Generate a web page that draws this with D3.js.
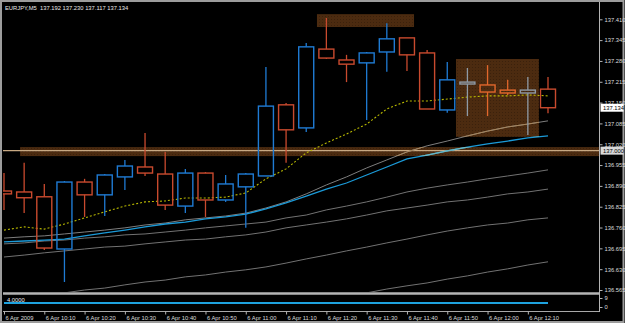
<!DOCTYPE html>
<html>
<head>
<meta charset="utf-8">
<script src="https://cdnjs.cloudflare.com/ajax/libs/d3/7.8.5/d3.min.js"></script>
<style>
  html, body { margin: 0; padding: 0; background: #000; }
  svg { display: block; }
  text { font-family: "Liberation Sans", Arial, sans-serif; }
</style>
</head>
<body>
<div id="chart"></div>
<script>
// EURJPY M5 on 6 Apr 2009, 10:00 .. 12:15
const symbol = 'EURJPY,M5'
const barTimes = ['10:00', '10:05', '10:10', '10:15', '10:20', '10:25', '10:30', '10:35', '10:40', '10:45',
  '10:50', '10:55', '11:00', '11:05', '11:10', '11:15', '11:20', '11:25', '11:30', '11:35',
  '11:40', '11:45', '11:50', '11:55', '12:00', '12:05', '12:10', '12:15']
const opens = [136.874, 136.871, 136.856, 136.693, 136.902, 136.862, 136.918, 136.949, 136.927, 136.827,
  136.930, 136.846, 136.887, 136.921, 137.143, 137.071, 137.317, 137.283, 137.274, 137.308,
  137.352, 137.305, 137.127, 137.208, 137.205, 137.189, 137.180, 137.192]
const highs = [136.930, 136.962, 136.896, 136.905, 136.912, 136.927, 136.971, 137.055, 136.996, 136.943,
  136.933, 136.924, 136.930, 137.261, 137.149, 137.336, 137.414, 137.299, 137.308, 137.398,
  137.352, 137.314, 137.277, 137.258, 137.267, 137.221, 137.230, 137.230]
const lows = [136.815, 136.805, 136.690, 136.590, 136.793, 136.796, 136.877, 136.921, 136.815, 136.805,
  136.793, 136.840, 136.759, 136.921, 136.962, 137.058, 137.286, 137.214, 137.096, 137.246,
  137.249, 137.130, 137.118, 137.108, 137.108, 137.174, 137.049, 137.117]
const closes = [136.865, 136.853, 136.696, 136.902, 136.862, 136.924, 136.952, 136.930, 136.830, 136.930,
  136.846, 136.896, 136.927, 137.139, 137.065, 137.324, 137.289, 137.270, 137.305, 137.349,
  137.299, 137.130, 137.221, 137.214, 137.183, 137.180, 137.189, 137.134]

// moving averages
const maYellow = [136.752, 136.762, 136.755, 136.771, 136.790, 136.809, 136.827, 136.840, 136.843, 136.852,
  136.852, 136.855, 136.868, 136.912, 136.943, 136.993, 137.024, 137.052, 137.083, 137.130,
  137.155, 137.155, 137.161, 137.167, 137.171, 137.171, 137.174, 137.171]
const maCyan = [136.715, 136.718, 136.721, 136.724, 136.734, 136.743, 136.752, 136.762, 136.771, 136.777,
  136.787, 136.793, 136.802, 136.818, 136.837, 136.858, 136.880, 136.899, 136.924, 136.949,
  136.974, 136.986, 136.999, 137.011, 137.021, 137.030, 137.040, 137.046]
const maGray1 = [136.727, 136.731, 136.734, 136.740, 136.746, 136.752, 136.759, 136.768, 136.774, 136.784,
  136.790, 136.796, 136.805, 136.821, 136.840, 136.865, 136.893, 136.918, 136.946, 136.971,
  136.996, 137.015, 137.030, 137.046, 137.061, 137.074, 137.083, 137.093]
const maGray2 = [136.709, 136.712, 136.718, 136.721, 136.727, 136.731, 136.737, 136.740, 136.746, 136.752,
  136.759, 136.765, 136.771, 136.777, 136.790, 136.799, 136.815, 136.827, 136.840, 136.855,
  136.871, 136.883, 136.893, 136.902, 136.912, 136.921, 136.930, 136.940]
const maGray3 = [136.668, 136.674, 136.681, 136.687, 136.693, 136.699, 136.702, 136.709, 136.715, 136.721,
  136.724, 136.731, 136.737, 136.746, 136.759, 136.768, 136.777, 136.787, 136.799, 136.812,
  136.821, 136.830, 136.840, 136.846, 136.855, 136.865, 136.871, 136.880]
const maGray4 = [136.531, 136.538, 136.546, 136.556, 136.565, 136.571, 136.581, 136.590, 136.596, 136.606,
  136.612, 136.621, 136.628, 136.637, 136.649, 136.662, 136.674, 136.687, 136.699, 136.712,
  136.724, 136.737, 136.749, 136.759, 136.768, 136.774, 136.784, 136.790]
const maGray5 = [null, null, null, null, null, null, null, null, null, null,
  null, null, null, null, null, null, 136.534, 136.546, 136.556, 136.568,
  136.578, 136.587, 136.599, 136.609, 136.621, 136.631, 136.643, 136.653]

// sub window indicator
const subValues = [4, 4, 4, 4, 4, 4, 4, 4, 4, 4, 4, 4, 4, 4, 4, 4, 4, 4, 4, 4, 4, 4, 4, 4, 4, 4, 4, 4]
const subTicks = [9, 0]

// drawn objects
const hlinePrice = 137.000
const zoneStart = ['11:17:40', '11:52:10', '10:04:00']
const zoneEnd = ['11:41:45', '12:12:45', '12:40:00']
const zoneHigh = [137.426, 137.286, 137.011]
const zoneLow = [137.386, 137.043, 136.983]

// axis labels
const priceTicks = [137.410, 137.345, 137.280, 137.215, 137.150, 137.085, 137.020, 136.955,
  136.890, 136.825, 136.760, 136.695, 136.630, 136.565]
const timeTicks = ['10:00', '10:10', '10:20', '10:30', '10:40', '10:50', '11:00', '11:10',
  '11:20', '11:30', '11:40', '11:50', '12:00', '12:10']
const timeTickLabels = ['6 Apr 2009', '6 Apr 10:10', '6 Apr 10:20', '6 Apr 10:30', '6 Apr 10:40',
  '6 Apr 10:50', '6 Apr 11:00', '6 Apr 11:10', '6 Apr 11:20', '6 Apr 11:30', '6 Apr 11:40',
  '6 Apr 11:50', '6 Apr 12:00', '6 Apr 12:10']

const width = 625
const height = 323
const plot = { left: 3, right: 599, top: 3, bottom: 292 }
const subPlot = { top: 295, bottom: 311 }

const bullColor = '#1f7bd4'
const bearColor = '#c94a2e'
const grayLine = '#727272'
const textColor = '#dcdcdc'

const parseT = t => d3.timeParse('%Y-%m-%d %H:%M:%S')('2009-04-06 ' + (t.length === 5 ? t + ':00' : t))

const bars = barTimes.map((t, i) => ({
  date: parseT(t), open: opens[i], high: highs[i], low: lows[i], close: closes[i]
}))
const zones = zoneStart.map((s, i) => ({
  start: parseT(s), end: parseT(zoneEnd[i]), high: zoneHigh[i], low: zoneLow[i]
}))

/**
 * Scales.
 */
const x = d3.scaleTime()
  .domain([bars[0].date, bars[bars.length - 1].date])
  .range([4, 548])
const y = d3.scaleLinear()
  .domain([136.565, 137.410])
  .range([290, 19.3])
const ySub = d3.scaleLinear()
  .domain([0, 9])
  .range([307, 298])

const svg = d3.select('#chart')
  .append('svg')
  .attr('width', width)
  .attr('height', height)

svg.append('rect')
  .attr('width', width).attr('height', height)
  .attr('fill', '#000')

const defs = svg.append('defs')
defs.append('clipPath').attr('id', 'plotClip')
  .append('rect')
  .attr('x', plot.left).attr('y', plot.top)
  .attr('width', plot.right - plot.left).attr('height', plot.bottom - plot.top)
const zoneClip = defs.append('clipPath').attr('id', 'zoneClip')
const zoneRect = z => ({
  x: x(z.start), y: y(z.high),
  w: x(z.end) - x(z.start), h: y(z.low) - y(z.high)
})
zones.forEach(z => {
  const r = zoneRect(z)
  zoneClip.append('rect').attr('x', r.x).attr('y', r.y).attr('width', r.w).attr('height', r.h)
})
// dotted fill like the terminal draws
const pattern = defs.append('pattern')
  .attr('id', 'zoneFill')
  .attr('width', 3).attr('height', 3)
  .attr('patternUnits', 'userSpaceOnUse')
pattern.append('rect').attr('width', 3).attr('height', 3).attr('fill', '#4c2b10')
pattern.append('rect').attr('x', 1).attr('y', 1).attr('width', 1).attr('height', 1).attr('fill', '#3b210c')

const main = svg.append('g').attr('clip-path', 'url(#plotClip)')

/**
 * Zones.
 */
main.selectAll('.zone')
  .data(zones)
  .enter()
  .append('rect')
  .attr('class', 'zone')
  .attr('x', d => zoneRect(d).x)
  .attr('y', d => zoneRect(d).y)
  .attr('width', d => zoneRect(d).w)
  .attr('height', d => zoneRect(d).h)
  .attr('fill', 'url(#zoneFill)')

// 137.000 horizontal line
main.append('line')
  .attr('x1', plot.left).attr('x2', plot.right)
  .attr('y1', y(hlinePrice)).attr('y2', y(hlinePrice))
  .attr('stroke', '#c8a983')
  .attr('stroke-width', 1.2)

/**
 * Moving averages.
 */
const maLine = d3.line()
  .defined(d => d[1] != null)
  .x(d => x(d[0]))
  .y(d => y(d[1]))
const series = [
  { values: maGray5, color: grayLine, zoneColor: '#a88660', width: 1 },
  { values: maGray4, color: grayLine, zoneColor: '#a88660', width: 1 },
  { values: maGray3, color: grayLine, zoneColor: '#a88660', width: 1 },
  { values: maGray2, color: grayLine, zoneColor: '#a88660', width: 1 },
  { values: maGray1, color: '#7e7e7e', zoneColor: '#a8865c', width: 1 },
  { values: maCyan, color: '#1b9ad8', zoneColor: '#6fb8c0', width: 1.3 },
]
const maGroup = main.append('g')
series.forEach(s => {
  maGroup.append('path')
    .datum(bars.map((b, i) => [b.date, s.values[i]]))
    .attr('d', maLine)
    .attr('fill', 'none')
    .attr('stroke', s.color)
    .attr('stroke-width', s.width)
})
// inside the zones the lines mix with the zone colour
const maZoneGroup = main.append('g').attr('clip-path', 'url(#zoneClip)')
series.forEach(s => {
  maZoneGroup.append('path')
    .datum(bars.map((b, i) => [b.date, s.values[i]]))
    .attr('d', maLine)
    .attr('fill', 'none')
    .attr('stroke', s.zoneColor)
    .attr('stroke-width', s.width)
})
main.append('path')
  .datum(bars.map((b, i) => [b.date, maYellow[i]]))
  .attr('d', maLine)
  .attr('fill', 'none')
  .attr('stroke', '#b8b800')
  .attr('stroke-width', 1.1)
  .attr('stroke-dasharray', '2,2')

/**
 * Candles.
 */
const inZone = d => zones.slice(1, 2).some(z => d.date >= z.start && d.date <= z.end)
const candleColor = d => {
  const bull = d.close >= d.open
  if (inZone(d)) return bull ? '#8e9aa6' : '#e2672c'
  return bull ? bullColor : bearColor
}
const halfBody = 7.5
const candles = main.selectAll('.candle')
  .data(bars)
  .enter()
  .append('g')
  .attr('class', 'candle')
candles.append('line')
  .attr('x1', d => x(d.date)).attr('x2', d => x(d.date))
  .attr('y1', d => y(d.high))
  .attr('y2', d => y(Math.max(d.open, d.close)))
  .attr('stroke', candleColor)
  .attr('stroke-width', 1.3)
candles.append('line')
  .attr('x1', d => x(d.date)).attr('x2', d => x(d.date))
  .attr('y1', d => y(Math.min(d.open, d.close)))
  .attr('y2', d => y(d.low))
  .attr('stroke', candleColor)
  .attr('stroke-width', 1.3)
candles.append('rect')
  .attr('x', d => x(d.date) - halfBody)
  .attr('width', halfBody * 2)
  .attr('y', d => y(Math.max(d.open, d.close)))
  .attr('height', d => Math.max(1.5, Math.abs(y(d.open) - y(d.close))))
  .attr('fill', 'none')
  .attr('stroke', candleColor)
  .attr('stroke-width', 1.4)

/**
 * Sub window.
 */
svg.append('path')
  .datum(bars.map((b, i) => [b.date, subValues[i]]))
  .attr('d', d3.line().x(d => x(d[0])).y(d => ySub(d[1])))
  .attr('fill', 'none')
  .attr('stroke', '#1ea2de')
  .attr('stroke-width', 2)
svg.append('text')
  .attr('x', 7).attr('y', 301.5)
  .attr('font-size', 5.8)
  .attr('fill', '#f0f0f0')
  .text(subValues[subValues.length - 1].toFixed(4))

/**
 * Frame.
 */
const frame = svg.append('g').attr('fill', 'none')
frame.append('rect')
  .attr('x', 1).attr('y', 1).attr('width', width - 2.5).attr('height', height - 2)
  .attr('stroke', '#9c9c9c').attr('stroke-width', 2)
frame.append('line')
  .attr('x1', plot.left).attr('x2', plot.right)
  .attr('y1', 293.5).attr('y2', 293.5)
  .attr('stroke', '#b4b4b4').attr('stroke-width', 2.5)
frame.append('line')
  .attr('x1', plot.left).attr('x2', plot.right + 0.5)
  .attr('y1', subPlot.bottom + 0.5).attr('y2', subPlot.bottom + 0.5)
  .attr('stroke', '#a8a8a8').attr('stroke-width', 1)
frame.append('line')
  .attr('x1', plot.right + 0.5).attr('x2', plot.right + 0.5)
  .attr('y1', 2).attr('y2', subPlot.bottom + 1)
  .attr('stroke', '#b4b4b4').attr('stroke-width', 1)

/**
 * Axes.
 */
const yAxis = svg.append('g')
  .attr('transform', `translate(${plot.right + 0.5},0)`)
  .call(
    d3.axisRight(y)
      .tickValues(priceTicks)
      .tickFormat(d3.format('.3f'))
      .tickSizeInner(3)
      .tickSizeOuter(0)
      .tickPadding(2)
  )
yAxis.select('.domain').remove()
yAxis.selectAll('line').attr('stroke', '#b4b4b4')
yAxis.selectAll('text')
  .attr('font-size', 5.8)
  .attr('font-family', '"Liberation Sans", Arial, sans-serif')
  .attr('fill', textColor)

const subAxis = svg.append('g')
  .attr('transform', `translate(${plot.right + 0.5},0)`)
  .call(d3.axisRight(ySub).tickValues(subTicks).tickSizeInner(3).tickSizeOuter(0).tickPadding(2))
subAxis.select('.domain').remove()
subAxis.selectAll('line').attr('stroke', '#b4b4b4')
subAxis.selectAll('text')
  .attr('font-size', 5.8)
  .attr('font-family', '"Liberation Sans", Arial, sans-serif')
  .attr('fill', textColor)

// price markers on the scale
const markers = [
  { price: closes[closes.length - 1], fill: '#ffffff' },
  { price: hlinePrice, fill: '#d8d8d8' }
]
const marker = svg.selectAll('.marker')
  .data(markers)
  .enter()
  .append('g')
  .attr('class', 'marker')
marker.append('rect')
  .attr('x', plot.right + 1.5)
  .attr('y', d => y(d.price) - 4)
  .attr('width', 23).attr('height', 8)
  .attr('fill', d => d.fill)
marker.append('text')
  .attr('x', plot.right + 4)
  .attr('y', d => y(d.price))
  .attr('dy', '0.35em')
  .attr('font-size', 5.8)
  .attr('fill', '#000')
  .text(d => d.price.toFixed(3))

const xAxis = svg.append('g')
  .attr('transform', `translate(0,${subPlot.bottom + 0.5})`)
  .call(
    d3.axisBottom(x)
      .tickValues(timeTicks.map(parseT))
      .tickFormat((d, i) => timeTickLabels[i])
      .tickSizeInner(3)
      .tickSizeOuter(0)
      .tickPadding(0)
  )
xAxis.select('.domain').remove()
xAxis.selectAll('line').attr('stroke', '#b4b4b4')
xAxis.selectAll('text')
  .attr('text-anchor', 'start')
  .attr('dx', 1)
  .attr('dy', 0)
  .attr('y', 8)
  .attr('font-size', 5.8)
  .attr('font-family', '"Liberation Sans", Arial, sans-serif')
  .attr('fill', textColor)

/**
 * Title.
 */
const last = bars[bars.length - 1]
svg.append('text')
  .attr('x', 5).attr('y', 10)
  .attr('font-size', 5.8)
  .attr('fill', '#e8e8e8')
  .attr('xml:space', 'preserve')
  .text(`${symbol}  ${[last.open, last.high, last.low, last.close].map(d3.format('.3f')).join(' ')}`)
</script>
</body>
</html>
